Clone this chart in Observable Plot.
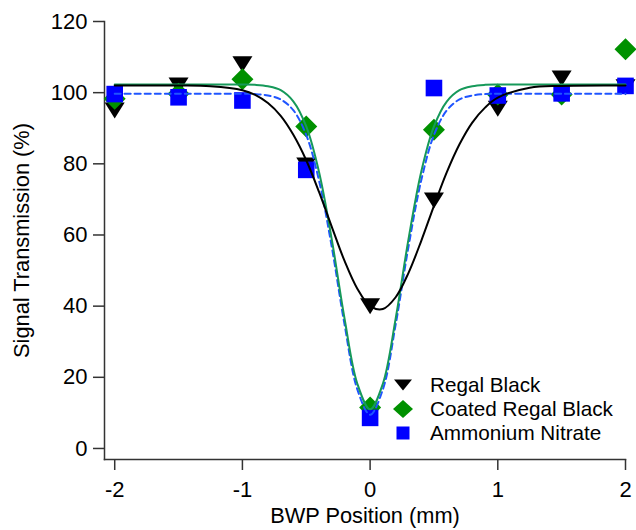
<!DOCTYPE html>
<html><head><meta charset="utf-8">
<script src="https://cdn.jsdelivr.net/npm/d3@7"></script>
<script src="https://cdn.jsdelivr.net/npm/@observablehq/plot@0.6"></script>
<style>
body{margin:0;background:#fff;}
#wrap{position:relative;width:636px;height:530px;font-family:"Liberation Sans",Arial,sans-serif;}
.lg{position:absolute;left:392px;height:24px;line-height:24px;font-size:20.7px;color:#000;white-space:nowrap;display:flex;align-items:center;}
.lg svg{width:22px;height:24px;margin-right:16px;}
</style></head><body><div id="wrap"></div>
<script>
// ---- data ----
const positions = [-2, -1.5, -1, -0.5, 0, 0.5, 1, 1.5, 2];
const regalBlack = [95, 102, 108, 79.5, 40, 69.7, 95.5, 104, 101.5];
const coatedRegalBlack = [98.3, 99.7, 103.8, 90.5, 11.5, 89.6, 99.5, 99.5, 112.2];
const ammoniumNitrate = [99.6, 98.7, 97.8, 78.3, 8.6, 101.3, 99.2, 99.8, 101.9];

// fitted curves
const fitX = [-2, -1.5, -1.25, -1, -0.9, -0.8, -0.7, -0.6, -0.5, -0.4, -0.3, -0.2, -0.1, 0, 0.1, 0.2, 0.3, 0.4, 0.5, 0.6, 0.7, 0.8, 0.9, 1, 1.25, 1.5, 2];
const fitRegalBlack = [102, 102, 101.8, 100.7, 99.4, 97.1, 93.5, 88.1, 81.0, 72.1, 62.3, 52.7, 44.9, 40.0, 39.2, 42.5, 49.3, 58.3, 68.2, 77.6, 85.5, 91.6, 95.8, 98.6, 101.4, 101.9, 102];
const fitCoated = [102.3, 102.3, 102.3, 102.3, 102.2, 101.8, 100.7, 97.5, 90.5, 77.7, 58.7, 36.5, 18.2, 11.0, 18.2, 36.5, 58.7, 77.7, 90.5, 97.5, 100.7, 101.8, 102.2, 102.3, 102.3, 102.3, 102.3];
const fitNitrate = [99.7, 99.7, 99.7, 99.7, 99.6, 99.2, 98.1, 95.0, 88.1, 75.3, 56.6, 34.8, 16.6, 9.5, 16.6, 34.8, 56.6, 75.3, 88.1, 95.0, 98.1, 99.2, 99.6, 99.7, 99.7, 99.7, 99.7];

const seriesNames = ["Regal Black", "Coated Regal Black", "Ammonium Nitrate"];
const xTicks = [-2, -1, 0, 1, 2];
const xTickLabels = ["-2", "-1", "0", "1", "2"];
const yTicks = [0, 20, 40, 60, 80, 100, 120];
const yTickLabels = ["0", "20", "40", "60", "80", "100", "120"];
const xLabel = "BWP Position (mm)";
const yLabel = "Signal Transmission (%)";

// ---- styles ----
const colBlack = "#000000", colGreen = "#009100", colBlue = "#0000ff";
const lineGreen = "#16995a", lineBlue = "#1f55ff";
const triDown = {draw(c){ c.moveTo(-10,-8); c.lineTo(10,-8); c.lineTo(0,8); c.closePath(); }};
const diamond = {draw(c){ c.moveTo(0,-11); c.lineTo(11,0); c.lineTo(0,11); c.lineTo(-11,0); c.closePath(); }};
const square = {draw(c){ c.rect(-8.3,-8.3,16.6,16.6); }};

const pts = (ys) => positions.map((x, i) => ({x, y: ys[i]}));
const fit = (ys) => fitX.map((x, i) => ({x, y: ys[i]}));

const font = "Liberation Sans, Arial, sans-serif";
const chart = Plot.plot({
  width: 636, height: 530,
  marginLeft: 104, marginRight: 11, marginTop: 21, marginBottom: 71,
  style: {fontFamily: font, fontSize: "22px", color: "#000", background: "#fff", overflow: "visible"},
  x: {domain: [-2.08, 2]},
  y: {domain: [-3.1, 120]},
  marks: [
    Plot.frame({anchor: "left", stroke: "#333", strokeWidth: 1.5}),
    Plot.frame({anchor: "bottom", stroke: "#333", strokeWidth: 1.5}),
    Plot.axisX({ticks: xTicks, tickFormat: (d, i) => xTickLabels[i], tickSize: 11, tickPadding: 11,
      stroke: "#333", strokeWidth: 1.5, fontSize: 22, label: null}),
    Plot.axisX({ticks: [], label: xLabel, labelArrow: "none", labelAnchor: "center", labelOffset: 63, fontSize: 21.8}),
    Plot.axisY({ticks: yTicks, tickFormat: (d, i) => yTickLabels[i], tickSize: 11, tickPadding: 6,
      stroke: "#333", strokeWidth: 1.5, fontSize: 22, label: null}),
    Plot.axisY({ticks: [], label: yLabel, labelArrow: "none", labelAnchor: "center", labelOffset: 91, fontSize: 21.8}),
    Plot.dot(pts(regalBlack), {x: "x", y: "y", symbol: triDown, fill: colBlack, stroke: "none"}),
    Plot.dot(pts(coatedRegalBlack), {x: "x", y: "y", symbol: diamond, fill: colGreen, stroke: "none"}),
    Plot.dot(pts(ammoniumNitrate), {x: "x", y: "y", symbol: square, fill: colBlue, stroke: "none"}),
    Plot.line(fit(fitNitrate), {x: "x", y: "y", stroke: lineBlue, strokeWidth: 2, strokeDasharray: "6,4", curve: "catmull-rom"}),
    Plot.line(fit(fitCoated), {x: "x", y: "y", stroke: lineGreen, strokeWidth: 2, curve: "catmull-rom"}),
    Plot.line(fit(fitRegalBlack), {x: "x", y: "y", stroke: colBlack, strokeWidth: 2, curve: "catmull-rom"})
  ]
});
const wrap = document.getElementById("wrap");
wrap.appendChild(chart);

// legend
const legendSymbols = [
  `<svg viewBox="-11 -12 22 24"><path d="M-9,-5.5L9,-5.5L0,5.5Z" fill="${colBlack}"/></svg>`,
  `<svg viewBox="-11 -12 22 24"><path d="M0,-9L10,0L0,9L-10,0Z" fill="${colGreen}"/></svg>`,
  `<svg viewBox="-11 -12 22 24"><rect x="-6.5" y="-6.5" width="13" height="13" fill="${colBlue}"/></svg>`
];
seriesNames.forEach((name, i) => {
  const row = document.createElement("div");
  row.className = "lg";
  row.style.top = (373 + 24 * i) + "px";
  row.innerHTML = legendSymbols[i] + `<span>${name}</span>`;
  wrap.appendChild(row);
});
</script></body></html>
